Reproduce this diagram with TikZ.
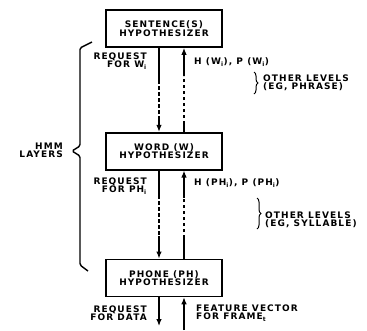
\documentclass[tikz,border=0pt]{standalone}
\usepackage{fontspec}
\newfontfamily\lblfont{DejaVu Sans}[LetterSpace=12]
\usetikzlibrary{arrows.meta, positioning, decorations.pathreplacing}

\begin{document}
\begin{tikzpicture}[x=1pt, y=-1pt, >={Latex[length=7pt,width=5.5pt]}, font=\lblfont\bfseries\fontsize{9}{8.3}\selectfont,
  hyp/.style={draw, line width=1.7pt, align=center, minimum width=116pt, minimum height=37pt, inner sep=1pt},
  link/.style={line width=1.2pt},
  gap/.style={line width=1.2pt, dash pattern=on 3.5pt off 2.5pt},
  lbl/.style={align=right, inner sep=0pt},
  note/.style={align=left, inner sep=0pt},
  lvl/.style={decorate, decoration={brace, amplitude=4pt}, line width=1pt}]
\useasboundingbox (0,0) rectangle (367,330);
% hypothesizer levels
\node[hyp] (sent) at (164,28.5) {SENTENCE(S)\\HYPOTHESIZER};
\node[hyp, below=84pt of sent] (word) {WORD (W)\\HYPOTHESIZER};
\node[hyp, below=88pt of word] (phone) {PHONE (PH)\\HYPOTHESIZER};
% break points of the two lines
\coordinate (rq1) at (159,80);
\coordinate (rq2) at (159,120);
\coordinate (rq3) at (159,195);
\coordinate (rq4) at (159,236);
\coordinate (rq5) at (159,326);
\coordinate (hy1) at (184,124);
\coordinate (hy2) at (184,76);
\coordinate (hy3) at (184,238);
\coordinate (hy4) at (184,198);
\coordinate (hy5) at (184,330);
% requests going down
\draw[link] (rq1 |- sent.south) -- (rq1);
\draw[gap] (rq1) -- (rq2);
\draw[link, ->] (rq2) -- (rq2 |- word.north);
\draw[link] (rq3 |- word.south) -- (rq3);
\draw[gap] (rq3) -- (rq4);
\draw[link, ->] (rq4) -- (rq4 |- phone.north);
\draw[link, ->] (rq5 |- phone.south) -- (rq5);
% hypotheses going up
\draw[link] (hy1 |- word.north) -- (hy1);
\draw[gap] (hy1) -- (hy2);
\draw[link, ->] (hy2) -- (hy2 |- sent.south);
\draw[link] (hy3 |- phone.north) -- (hy3);
\draw[gap] (hy3) -- (hy4);
\draw[link, ->] (hy4) -- (hy4 |- word.south);
\draw[link, ->] (hy5) -- (hy5 |- phone.south);
% labels
\node[lbl, anchor=east] (reqw) at (147,61) {REQUEST\\FOR W\textsubscript{i}};
\node[note, anchor=west] (hw) at (194,62) {H (W\textsubscript{i}), P (W\textsubscript{i})};
\node[lbl, anchor=east] (reqph) at (147,186) {REQUEST\\FOR PH\textsubscript{i}};
\node[note, anchor=west] (hph) at (194,183) {H (PH\textsubscript{i}), P (PH\textsubscript{i})};
\node[lbl, anchor=east] (reqd) at (147,313) {REQUEST\\FOR DATA};
\node[note, anchor=west] (feat) at (196,313) {FEATURE VECTOR\\FOR FRAME\textsubscript{t}};
% other levels
\draw[lvl] (254,72) -- (254,94);
\node[note, anchor=west] (lvphr) at (263,83) {OTHER LEVELS\\(EG, PHRASE)};
\draw[lvl] (257,198) -- (257,229);
\node[note, anchor=west] (lvsyl) at (265,220) {OTHER LEVELS\\(EG, SYLLABLE)};
% hmm layers
\draw[line width=1.4pt, rounded corners=1.5pt] (92,42) -- (80,48) -- (80,146) -- (72,151) -- (80,156) -- (80,265) -- (88,271);
\node[lbl, anchor=east] (hmm) at (63,150) {HMM\\LAYERS};
\end{tikzpicture}
\end{document}
